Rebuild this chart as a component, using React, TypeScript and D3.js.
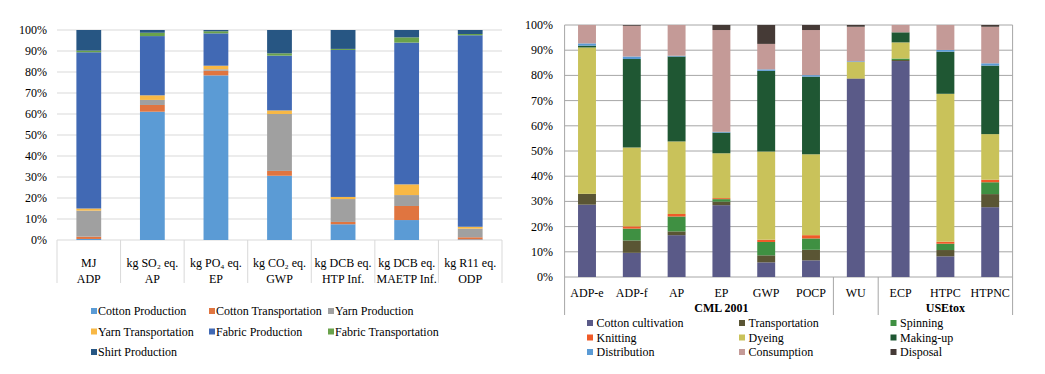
import * as React from 'react';
import * as d3 from 'd3';

// ---- left chart data ----
const leftUnits = ['MJ', 'kg SO₂ eq.', 'kg PO₄ eq.', 'kg CO₂ eq.', 'kg DCB eq.', 'kg DCB eq.', 'kg R11 eq.'];
const leftCats = ['ADP', 'AP', 'EP', 'GWP', 'HTP Inf.', 'MAETP Inf.', 'ODP'];
const leftSeries = ['Cotton Production', 'Cotton Transportation', 'Yarn Production', 'Yarn Transportation', 'Fabric Production', 'Fabric Transportation', 'Shirt Production'];
const leftColors = ['#5b9bd5', '#e07540', '#a0a0a0', '#f8b845', '#4169b4', '#6aa24b', '#275683'];
const cottonProduction = [0.5, 61.1, 78.4, 30.6, 7.5, 9.5, 0.3];
const cottonTransport = [1.1, 3.2, 2.2, 2.3, 1.1, 6.7, 1.0];
const yarnProduction = [12.4, 2.4, 0.7, 27.1, 10.9, 5.2, 4.1];
const yarnTransport = [1.0, 2.2, 1.7, 1.7, 1.0, 5.1, 0.9];
const fabricProduction = [74.4, 28.2, 15.4, 26.1, 70.0, 67.5, 91.2];
const fabricTransport = [0.8, 1.6, 1.0, 1.1, 0.5, 2.5, 0.6];
const shirtProduction = [9.8, 1.3, 0.6, 11.1, 9.0, 3.5, 1.9];
const leftValues = [cottonProduction, cottonTransport, yarnProduction, yarnTransport, fabricProduction, fabricTransport, shirtProduction];

// ---- right chart data ----
const rightCats = ['ADP-e', 'ADP-f', 'AP', 'EP', 'GWP', 'POCP', 'WU', 'ECP', 'HTPC', 'HTPNC'];
const rightSeries = ['Cotton cultivation', 'Transportation', 'Spinning', 'Knitting', 'Dyeing', 'Making-up', 'Distribution', 'Consumption', 'Disposal'];
const rightColors = ['#5a5a88', '#5a5534', '#3f9042', '#f05a28', '#c9c25a', '#1f5733', '#5b9bd5', '#c49a97', '#453a36'];
const cottonCultivation = [28.7, 9.6, 16.6, 28.5, 5.8, 6.6, 78.6, 85.7, 8.2, 27.7];
const transportation = [4.3, 4.9, 1.5, 1.4, 2.8, 4.2, 0.2, 0.4, 2.5, 5.2];
const spinning = [0, 4.7, 5.9, 1.0, 5.3, 4.5, 0, 0.6, 2.5, 4.7];
const knitting = [0, 0.9, 1.0, 0.4, 0.9, 1.3, 0, 0, 0.8, 1.0];
const dyeing = [58.1, 31.3, 28.8, 17.8, 35.0, 32.1, 6.5, 6.4, 58.7, 18.1];
const makingUp = [0.7, 35.1, 33.7, 8.2, 32.0, 30.8, 0, 4.0, 16.7, 27.2];
const distribution = [0.9, 1.0, 0.3, 0.3, 0.6, 0.6, 0.3, 0, 0.7, 0.9];
const consumption = [7.3, 12.2, 12.2, 40.4, 10.1, 17.9, 13.7, 2.9, 9.9, 14.5];
const disposal = [0, 0.3, 0, 2.0, 7.5, 2.0, 0.7, 0, 0, 0.7];
const rightValues = [cottonCultivation, transportation, spinning, knitting, dyeing, makingUp, distribution, consumption, disposal];
const groups = [
  { label: 'CML 2001', from: 0, to: 6 },
  { label: 'USEtox', from: 7, to: 9 },
];
const groupBreaks = [6, 7];

const ticks = [0, 10, 20, 30, 40, 50, 60, 70, 80, 90, 100];
const font = "'Liberation Serif', serif";

function stackRows(cats: string[], series: string[], values: number[][]) {
  const rows = cats.map((c, i) => {
    const r: any = { cat: c };
    series.forEach((s, j) => { r[s] = values[j][i]; });
    return r;
  });
  return d3.stack<any>().keys(series)(rows);
}

const LeftChart = () => {
  const x = d3.scaleBand().domain(leftCats).range([57, 502]).paddingInner(0.61).paddingOuter(0.305);
  const y = d3.scaleLinear().domain([0, 100]).range([240, 30]);
  const stacked = stackRows(leftCats, leftSeries, leftValues);
  const step = x.step();
  const bounds = d3.range(leftCats.length + 1).map(i => 57 + i * step);
  return (
    <g style={{ fontFamily: font }} fill="#000">
      {ticks.map(t => (
        <g key={t}>
          <line x1={57} x2={502} y1={y(t)} y2={y(t)} stroke="#d9d9d9" />
          <text x={47} y={y(t) + 4} textAnchor="end" fontSize={12}>{t}%</text>
        </g>
      ))}
      {stacked.map((layer, li) => (
        <g key={layer.key} fill={leftColors[li]}>
          {layer.map((d, i) => (
            <rect key={i} x={x(leftCats[i])} width={x.bandwidth()} y={y(d[1])} height={Math.max(0, y(d[0]) - y(d[1]))} />
          ))}
        </g>
      ))}
      {bounds.map((b, i) => (
        <line key={i} x1={b} x2={b} y1={240} y2={283} stroke="#d9d9d9" />
      ))}
      {leftCats.map((c, i) => (
        <g key={c} fontSize={12} textAnchor="middle">
          <text x={x(c)! + x.bandwidth() / 2} y={267}>{leftUnits[i]}</text>
          <text x={x(c)! + x.bandwidth() / 2} y={283}>{c}</text>
        </g>
      ))}
      {leftSeries.map((s, i) => {
        const col = i % 3, row = Math.floor(i / 3);
        const lx = [91, 209, 328][col];
        const ly = 315 + row * 20.5;
        return (
          <g key={s}>
            <rect x={lx} y={ly - 7} width={6} height={6} fill={leftColors[i]} />
            <text x={lx + 7} y={ly} fontSize={12}>{s}</text>
          </g>
        );
      })}
    </g>
  );
};

const RightChart = () => {
  const x0 = 564.6, x1 = 1012.6;
  const x = d3.scaleBand().domain(rightCats).range([x0, x1]).paddingInner(0.6).paddingOuter(0.3);
  const y = d3.scaleLinear().domain([0, 100]).range([277, 25]);
  const stacked = stackRows(rightCats, rightSeries, rightValues);
  const step = x.step();
  const seps = [0, ...groupBreaks, rightCats.length].map(i => x0 + i * step);
  return (
    <g style={{ fontFamily: font }} fill="#000">
      {ticks.map(t => (
        <g key={t}>
          <line x1={x0} x2={x1} y1={y(t)} y2={y(t)} stroke="#a6a6a6" />
          <text x={553} y={y(t) + 4} textAnchor="end" fontSize={12}>{t}%</text>
        </g>
      ))}
      <line x1={x0} x2={x0} y1={y(100)} y2={y(0)} stroke="#a6a6a6" />
      <line x1={x1} x2={x1} y1={y(100)} y2={y(0)} stroke="#a6a6a6" />
      {stacked.map((layer, li) => (
        <g key={layer.key} fill={rightColors[li]}>
          {layer.map((d, i) => (
            <rect key={i} x={x(rightCats[i])} width={x.bandwidth()} y={y(d[1])} height={Math.max(0, y(d[0]) - y(d[1]))} />
          ))}
        </g>
      ))}
      {seps.map((b, i) => (
        <line key={i} x1={b} x2={b} y1={277} y2={315} stroke="#a6a6a6" />
      ))}
      {rightCats.map(c => (
        <text key={c} x={x(c)! + x.bandwidth() / 2} y={297} fontSize={12} textAnchor="middle">{c}</text>
      ))}
      {groups.map(g => (
        <text key={g.label} x={(x0 + g.from * step + x0 + (g.to + 1) * step) / 2} y={312}
          fontSize={12} fontWeight="bold" textAnchor="middle">{g.label}</text>
      ))}
      {rightSeries.map((s, i) => {
        const col = i % 3, row = Math.floor(i / 3);
        const lx = [587, 739, 890.5][col];
        const ly = 327 + row * 14.5;
        return (
          <g key={s}>
            <rect x={lx} y={ly - 7} width={6} height={6} fill={rightColors[i]} />
            <text x={lx + 9.5} y={ly} fontSize={12}>{s}</text>
          </g>
        );
      })}
    </g>
  );
};

const App: React.FC = () => {
  return (
    <svg width={1045} height={374} style={{ position: 'absolute', left: 0, top: 0, background: '#fff' }}>
      <LeftChart />
      <RightChart />
    </svg>
  );
};

export default App;
